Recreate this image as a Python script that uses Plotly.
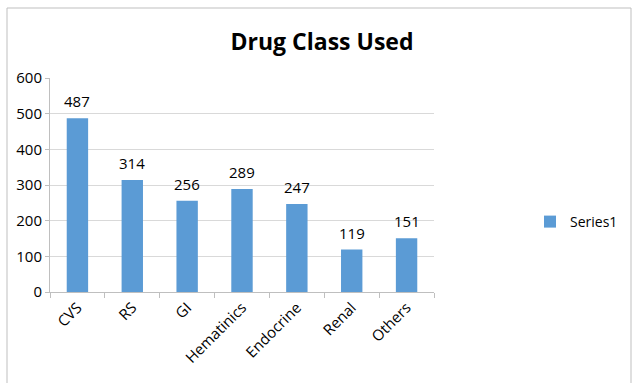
import plotly.graph_objects as go

categories = ["CVS", "RS", "GI", "Hematinics", "Endocrine", "Renal", "Others"]
values = [487, 314, 256, 289, 247, 119, 151]
series_name = "Series1"
y_ticks = [0, 100, 200, 300, 400, 500, 600]

W, H = 633, 383
L, R, T, B = 50, 199, 78, 91
pw, ph = W - L - R, H - T - B

def px_x(p):
    return (p - L) / pw

def px_y(p):
    return (H - B - p) / ph

font = "Open Sans"

fig = go.Figure()
fig.add_trace(go.Bar(
    x=categories, y=values, name=series_name,
    marker=dict(color="#5B9BD5", line=dict(width=0)),
    width=0.39,
))

for c, v in zip(categories, values):
    fig.add_annotation(x=c, y=v, text=str(v), showarrow=False,
                       xanchor="center", yanchor="bottom", yshift=5,
                       font=dict(size=15, color="#000000", family=font))

fig.update_layout(
    width=W, height=H,
    margin=dict(l=L, r=R, t=T, b=B, autoexpand=False),
    paper_bgcolor="white", plot_bgcolor="white",
    font=dict(family=font, color="#000000"),
    title=dict(text="<b>Drug Class Used</b>", x=322 / W, xanchor="center",
               y=1 - 42 / H, yanchor="middle",
               font=dict(size=23, family=font, color="#000000")),
    showlegend=True,
    legend=dict(x=px_x(530), y=px_y(222), xanchor="left", yanchor="middle",
                font=dict(size=14, family=font), itemwidth=30,
                bgcolor="rgba(0,0,0,0)"),
    xaxis=dict(
        type="category", showgrid=False, showline=True, linecolor="#BFBFBF",
        linewidth=1, ticks="outside", tickson="boundaries", ticklen=5,
        tickcolor="#BFBFBF", tickangle=-45, tickfont=dict(size=15, family=font),
        automargin=False,
    ),
    yaxis=dict(
        range=[0, 600], tickvals=y_ticks, showgrid=True, gridcolor="#D9D9D9",
        showline=True, linecolor="#BFBFBF", ticks="outside", ticklen=4,
        tickcolor="#BFBFBF", tickfont=dict(size=15, family=font), zeroline=False,
        automargin=False,
    ),
    bargap=0.61,
)

fig.add_shape(type="rect", xref="paper", yref="paper",
              x0=px_x(7), x1=px_x(631), y0=px_y(390), y1=px_y(8),
              line=dict(color="#BFBFBF", width=1), fillcolor="rgba(0,0,0,0)",
              layer="below")

fig.write_html("out.html")
